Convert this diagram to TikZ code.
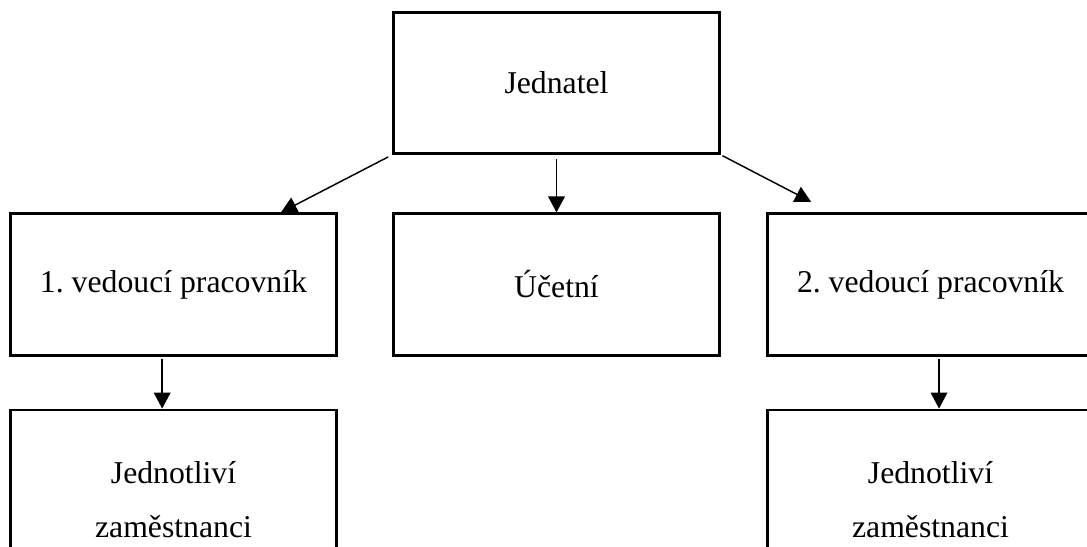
\documentclass[tikz,border=0pt]{standalone}
\usepackage{fontspec}
\setmainfont{Liberation Serif}
\usetikzlibrary{arrows.meta}
\frenchspacing

\begin{document}
\begin{tikzpicture}[x=0.75pt,y=-0.75pt,
    box/.style={draw,line width=2.1pt,minimum width=245pt,minimum height=106pt,
      inner sep=0pt,align=center,font=\fontsize{23.8pt}{40.5pt}\selectfont},
    arr/.style={-{Triangle[length=12pt,width=12.5pt]},line width=1.1pt}]
      \useasboundingbox (0,0) rectangle (1087,546);
      \node [box] (jed) at (556.5,83) {Jednatel};
      \node [box] (ved1) at (173.5,284.5) {1. vedoucí pracovník};
      \node [box] (uc) at (556.5,284.5) {Účetní};
      \node [box] (ved2) at (930.5,284.5) {2. vedoucí pracovník};
      \node [box,minimum height=135pt] (zam1) at (173.5,500) {Jednotliví\\zaměstnanci};
      \node [box,minimum height=135pt] (zam2) at (930.5,500) {Jednotliví\\zaměstnanci};
      \draw [arr,shorten <=3pt] (jed.south west) -- ([xshift=-43pt]ved1.north east);
      \draw [arr,shorten <=3pt] (jed.south) -- (uc.north);
      \draw [arr,shorten <=1pt] (jed.south east) -- ([xshift=34pt,yshift=8pt]ved2.north west);
      \draw [arr,shorten <=2pt] ([xshift=-8.5pt]ved1.south) -- ([xshift=-8.5pt]zam1.north);
      \draw [arr,shorten <=2pt] ([xshift=6.4pt]ved2.south) -- ([xshift=6.4pt]zam2.north);
\end{tikzpicture}
\end{document}
